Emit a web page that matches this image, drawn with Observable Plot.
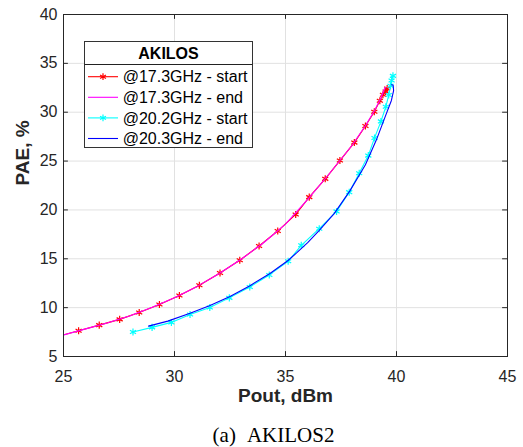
<!DOCTYPE html>
<html>
<head>
<meta charset="utf-8">
<script src="https://cdn.jsdelivr.net/npm/d3@7"></script>
<script src="https://cdn.jsdelivr.net/npm/@observablehq/plot@0.6"></script>
<style>
  html, body { margin: 0; padding: 0; background: #fff; }
  #wrap { position: relative; width: 523px; height: 447px; overflow: hidden; font-family: "Liberation Sans", Arial, sans-serif; }
  #chart { position: absolute; left: 0; top: 0; }
  #legend { position: absolute; left: 84px; top: 41px; }
  #caption { position: absolute; left: 0; width: 547px; top: 425px; text-align: center;
             font-family: "Liberation Serif", "Times New Roman", serif; font-size: 21px; line-height: 21px; color: #000; white-space: nowrap; }
</style>
</head>
<body>
<div id="wrap">
  <div id="chart"></div>
  <div id="legend"></div>
  <div id="caption">(a)<span style="margin-left:11px">AKILOS2</span></div>
</div>
<script>
// ---- data ----
const xTicks = [25, 30, 35, 40, 45];
const yTicks = [5, 10, 15, 20, 25, 30, 35, 40];
const xLabel = "Pout, dBm";
const yLabel = "PAE, %";
const legendTitle = "AKILOS";
const seriesNames = ["@17.3GHz - start", "@17.3GHz - end", "@20.2GHz - start", "@20.3GHz - end"];

// [Pout dBm, PAE %]
const start173 = [
  [24.8, 7.09], [25.68, 7.63], [26.61, 8.21], [27.53, 8.80], [28.41, 9.51], [29.32, 10.33],
  [30.22, 11.24], [31.12, 12.30], [32.05, 13.55], [32.94, 14.85], [33.81, 16.31], [34.65, 17.84],
  [35.46, 19.54], [36.07, 21.31], [36.79, 23.18], [37.45, 25.05], [38.10, 26.89], [38.60, 28.59],
  [39.00, 30.05], [39.25, 31.17], [39.39, 31.79], [39.51, 32.12], [39.58, 32.43]
];
const end173 = [
  [24.8, 7.07], [26.0, 7.83], [27.0, 8.46], [28.0, 9.17], [29.0, 10.03], [30.0, 11.01],
  [31.0, 12.15], [32.0, 13.47], [33.0, 14.95], [34.0, 16.62], [35.0, 18.55], [36.0, 21.08],
  [37.0, 23.78], [38.0, 26.62], [38.6, 28.62], [39.0, 30.12], [39.3, 31.45], [39.45, 32.35], [39.5, 32.55]
];
const start202 = [
  [28.13, 7.50], [28.99, 7.98], [29.86, 8.49], [30.70, 9.29], [31.59, 10.02], [32.47, 11.00],
  [33.39, 12.12], [34.27, 13.35], [35.12, 14.74], [35.71, 16.38], [36.52, 18.08], [37.30, 19.85],
  [37.87, 21.82], [38.32, 23.76], [38.73, 25.56], [39.01, 27.37], [39.30, 29.06], [39.52, 30.56],
  [39.65, 31.76], [39.73, 32.70], [39.78, 33.25], [39.84, 33.72]
];
const end203 = [
  [28.83, 8.11], [29.7, 8.62], [30.7, 9.42], [31.6, 10.22], [32.5, 11.15], [33.4, 12.25],
  [34.3, 13.50], [35.1, 14.80], [35.5, 15.60], [36.0, 16.65], [36.5, 17.85], [37.2, 19.65],
  [37.9, 21.95], [38.6, 24.62], [39.1, 27.20], [39.5, 29.60], [39.77, 31.20], [39.87, 32.20],
  [39.85, 32.75], [39.78, 32.82]
];

const colors = ["#ff0000", "#ff00ff", "#00ffff", "#0000ff"];
const hasMarker = [true, false, true, false];
const seriesData = [start173, end173, start202, end203];

const axisColor = "#262626";
const gridColor = "#e1e1e1";

const marks = [
  Plot.gridX(xTicks, {stroke: gridColor, strokeOpacity: 1}),
  Plot.gridY(yTicks, {stroke: gridColor, strokeOpacity: 1}),
  Plot.axisX(xTicks, {tickSize: 0, tickPadding: 14, fontSize: 16, fill: axisColor, label: null}),
  Plot.axisY(yTicks, {tickSize: 0, tickPadding: 6, fontSize: 16, fill: axisColor, label: null}),
  // inward MATLAB-style ticks on all four sides
  Plot.ruleX(xTicks, {y1: 5, y2: 5.5, stroke: axisColor}),
  Plot.ruleX(xTicks, {y1: 39.5, y2: 40, stroke: axisColor}),
  Plot.ruleY(yTicks, {x1: 25, x2: 25.22, stroke: axisColor}),
  Plot.ruleY(yTicks, {x1: 44.78, x2: 45, stroke: axisColor})
];
seriesData.forEach((data, i) => {
  marks.push(Plot.line(data, {x: d => d[0], y: d => d[1], stroke: colors[i], strokeWidth: 1.1, clip: true}));
  if (hasMarker[i]) {
    marks.push(Plot.dot(data.filter(d => d[0] >= 25), {x: d => d[0], y: d => d[1], symbol: "asterisk", r: 3.3, stroke: colors[i], strokeWidth: 1.2, clip: true}));
  }
});
marks.push(
  Plot.frame({stroke: axisColor, strokeWidth: 1}),
  Plot.text([xLabel], {frameAnchor: "bottom", dy: 45, fontSize: 19, fontWeight: "bold", fill: axisColor}),
  Plot.text([yLabel], {frameAnchor: "left", dx: -41, rotate: -90, fontSize: 19, fontWeight: "bold", fill: axisColor})
);

const chart = Plot.plot({
  width: 523,
  height: 420,
  marginLeft: 63,
  marginRight: 16,
  marginTop: 14,
  marginBottom: 64,
  x: {domain: [25, 45]},
  y: {domain: [5, 40]},
  style: {fontFamily: "'Liberation Sans', Arial, sans-serif", background: "white", overflow: "visible"},
  marks
});
document.getElementById("chart").appendChild(chart);

// ---- legend (inside axes, MATLAB style) ----
const lw = 169, lh = 107;
const lg = d3.select("#legend").append("svg").attr("width", lw).attr("height", lh)
  .style("font-family", "'Liberation Sans', Arial, sans-serif").style("overflow", "visible");
lg.append("rect").attr("x", 0.5).attr("y", 0.5).attr("width", lw - 1).attr("height", lh - 1)
  .attr("fill", "white").attr("stroke", "#333").attr("stroke-width", 1);
lg.append("text").attr("x", lw / 2).attr("y", 12).attr("dy", "0.35em").attr("text-anchor", "middle")
  .attr("font-size", 16).attr("font-weight", "bold").attr("fill", "#000").text(legendTitle);
lg.append("line").attr("x1", 0.5).attr("x2", lw - 0.5).attr("y1", 23.5).attr("y2", 23.5)
  .attr("stroke", "#222").attr("stroke-width", 1);
const ast = d3.symbol(d3.symbolAsterisk, 32)();
seriesNames.forEach((name, i) => {
  const cy = 35.7 + i * 20.6;
  const g = lg.append("g");
  g.append("line").attr("x1", 4).attr("x2", 34).attr("y1", cy).attr("y2", cy)
    .attr("stroke", colors[i]).attr("stroke-width", 1.1);
  if (hasMarker[i]) {
    g.append("path").attr("d", ast).attr("transform", `translate(19,${cy})`)
      .attr("stroke", colors[i]).attr("fill", "none").attr("stroke-width", 1.2);
  }
  g.append("text").attr("x", 38.7).attr("y", cy).attr("dy", "0.35em")
    .attr("font-size", 16).attr("fill", "#000").text(name);
});
</script>
</body>
</html>
